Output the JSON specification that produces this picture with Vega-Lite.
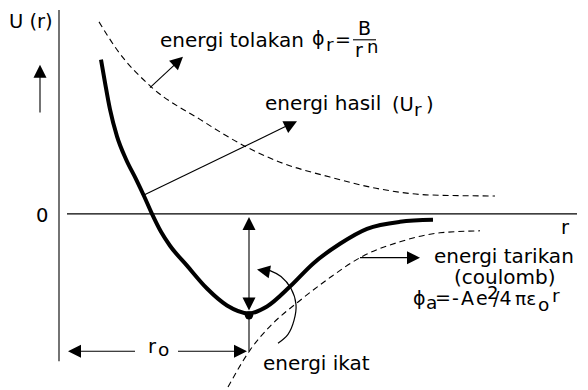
{
  "$schema": "https://vega.github.io/schema/vega-lite/v6.json",
  "width": 588,
  "height": 390,
  "autosize": {"type": "fit", "contains": "padding"},
  "padding": 0,
  "background": "white",
  "config": {"view": {"stroke": null}},
  "datasets": {
    "solid": [
      {"r": 42, "U": 155}, {"r": 46, "U": 132}, {"r": 51, "U": 105}, {"r": 58, "U": 78},
      {"r": 67, "U": 55}, {"r": 77, "U": 35}, {"r": 85, "U": 18}, {"r": 93, "U": 0},
      {"r": 102, "U": -18}, {"r": 111, "U": -32}, {"r": 128, "U": -52}, {"r": 148, "U": -75},
      {"r": 168, "U": -92}, {"r": 190, "U": -100}, {"r": 208, "U": -93}, {"r": 231, "U": -73},
      {"r": 254, "U": -50}, {"r": 281, "U": -30}, {"r": 308, "U": -15}, {"r": 341, "U": -8},
      {"r": 374, "U": -6}
    ],
    "dashed": [
      {"curve": "tolakan", "i": 1, "r": 40, "U": 193}, {"curve": "tolakan", "i": 2, "r": 58, "U": 165},
      {"curve": "tolakan", "i": 3, "r": 93, "U": 127}, {"curve": "tolakan", "i": 4, "r": 141, "U": 95},
      {"curve": "tolakan", "i": 5, "r": 186, "U": 68}, {"curve": "tolakan", "i": 6, "r": 221, "U": 52},
      {"curve": "tolakan", "i": 7, "r": 271, "U": 37}, {"curve": "tolakan", "i": 8, "r": 321, "U": 25},
      {"curve": "tolakan", "i": 9, "r": 371, "U": 19}, {"curve": "tolakan", "i": 10, "r": 436, "U": 18},
      {"curve": "tarikan", "i": 1, "r": 169, "U": -174}, {"curve": "tarikan", "i": 2, "r": 191, "U": -137},
      {"curve": "tarikan", "i": 3, "r": 211, "U": -113}, {"curve": "tarikan", "i": 4, "r": 241, "U": -87},
      {"curve": "tarikan", "i": 5, "r": 271, "U": -64}, {"curve": "tarikan", "i": 6, "r": 301, "U": -44},
      {"curve": "tarikan", "i": 7, "r": 341, "U": -28}, {"curve": "tarikan", "i": 8, "r": 381, "U": -19},
      {"curve": "tarikan", "i": 9, "r": 421, "U": -17}
    ],
    "arc": [
      {"i": 1, "r": 219, "U": -130}, {"i": 2, "r": 229, "U": -121}, {"i": 3, "r": 235, "U": -107},
      {"i": 4, "r": 237, "U": -91}, {"i": 5, "r": 232, "U": -75}, {"i": 6, "r": 222, "U": -63},
      {"i": 7, "r": 211, "U": -57}, {"i": 8, "r": 203, "U": -55}
    ],
    "segments": [
      {"name": "sumbu U", "r": 0, "U": 205, "r2": 0, "U2": -148},
      {"name": "sumbu r", "r": 8, "U": 0, "r2": 518, "U2": 0},
      {"name": "panah U", "r": -19, "U": 102, "r2": -19, "U2": 143},
      {"name": "panah tolakan", "r": 91, "U": 127, "r2": 119, "U2": 153},
      {"name": "panah hasil", "r": 85, "U": 19, "r2": 231, "U2": 90},
      {"name": "panah tarikan", "r": 301, "U": -44, "r2": 353, "U2": -44},
      {"name": "energi ikat", "r": 190, "U": -7, "r2": 190, "U2": -91},
      {"name": "r0 tegak", "r": 190, "U": -100, "r2": 190, "U2": -138},
      {"name": "r0 kiri", "r": 13, "U": -138, "r2": 76, "U2": -138},
      {"name": "r0 kanan", "r": 119, "U": -138, "r2": 183, "U2": -138},
      {"name": "garis pecahan", "r": 294, "U": 175, "r2": 317, "U2": 175}
    ],
    "heads": [
      {"r": -19, "U": 150, "dir": 0}, {"r": 124, "U": 158, "dir": 47},
      {"r": 238, "U": 93, "dir": 64}, {"r": 361, "U": -44, "dir": 90},
      {"r": 190, "U": -3, "dir": 0}, {"r": 190, "U": -97, "dir": 180},
      {"r": 9, "U": -138, "dir": 270}, {"r": 188, "U": -138, "dir": 90},
      {"r": 198, "U": -56, "dir": 280}
    ],
    "dot": [{"r": 190, "U": -102}],
    "texts": [
      {"label": "energi tolakan", "role": "label", "r": 101, "U": 168},
      {"label": "energi hasil", "role": "label", "r": 206, "U": 104},
      {"label": "energi tarikan", "role": "label", "r": 375, "U": -49},
      {"label": "(coulomb)", "role": "label", "r": 395, "U": -70},
      {"label": "energi ikat", "role": "label", "r": 204, "U": -157},
      {"label": "U (r)", "role": "axis", "r": -50, "U": 187},
      {"label": "0", "role": "axis", "r": -23, "U": -8},
      {"label": "r", "role": "axis", "r": 502, "U": -20},
      {"label": "r", "role": "axis", "r": 89, "U": -140},
      {"label": "(U", "role": "axis", "r": 333, "U": 103},
      {"label": ")", "role": "axis", "r": 367, "U": 103},
      {"label": "ϕ", "role": "formula", "r": 253, "U": 170},
      {"label": "=", "role": "formula", "r": 276, "U": 169},
      {"label": "B", "role": "formula", "r": 299, "U": 180},
      {"label": "r", "role": "formula", "r": 296, "U": 158},
      {"label": "ϕ", "role": "formula", "r": 354, "U": -92},
      {"label": "=", "role": "formula", "r": 376, "U": -91},
      {"label": "-", "role": "formula", "r": 393, "U": -92},
      {"label": "A", "role": "formula", "r": 402, "U": -92},
      {"label": "e", "role": "formula", "r": 417, "U": -92},
      {"label": "/4", "role": "formula", "r": 434, "U": -92},
      {"label": "r", "role": "sub", "r": 267, "U": 164},
      {"label": "r", "role": "sub", "r": 355, "U": 98},
      {"label": "a", "role": "sub", "r": 367, "U": -96},
      {"label": "πε", "role": "sub", "r": 456, "U": -92},
      {"label": "o", "role": "sub", "r": 479, "U": -98},
      {"label": "r", "role": "sub", "r": 493, "U": -89},
      {"label": "o", "role": "sub", "r": 99, "U": -143},
      {"label": "n", "role": "sup", "r": 308, "U": 162},
      {"label": "2", "role": "sup", "r": 428, "U": -86}
    ]
  },
  "encoding": {
    "x": {"field": "r", "type": "quantitative", "axis": null, "scale": {"domain": [-59, 529], "nice": false, "zero": false}},
    "y": {"field": "U", "type": "quantitative", "axis": null, "scale": {"domain": [-175, 215], "nice": false, "zero": false}}
  },
  "layer": [
    {
      "data": {"name": "dashed"},
      "mark": {"type": "line", "color": "black", "strokeWidth": 1.1, "strokeDash": [6, 4], "interpolate": "monotone"},
      "encoding": {"detail": {"field": "curve"}, "order": {"field": "i", "type": "quantitative"}}
    },
    {
      "data": {"name": "solid"},
      "mark": {"type": "line", "color": "black", "strokeWidth": 4, "interpolate": "monotone"},
      "encoding": {}
    },
    {
      "data": {"name": "arc"},
      "mark": {"type": "line", "color": "black", "strokeWidth": 1.2, "interpolate": "catmull-rom"},
      "encoding": {"order": {"field": "i", "type": "quantitative"}}
    },
    {
      "data": {"name": "segments"},
      "mark": {"type": "rule", "color": "black", "strokeWidth": 1.1},
      "encoding": {"x2": {"field": "r2"}, "y2": {"field": "U2"}}
    },
    {
      "data": {"name": "heads"},
      "mark": {"type": "point", "shape": "M0,0L-0.5,1L0.5,1Z", "filled": true, "color": "black", "opacity": 1, "size": 676},
      "encoding": {"angle": {"field": "dir", "type": "quantitative", "scale": null}}
    },
    {
      "data": {"name": "dot"},
      "mark": {"type": "point", "shape": "circle", "filled": true, "color": "black", "opacity": 1, "size": 70},
      "encoding": {}
    },
    {
      "data": {"name": "texts"},
      "mark": {"type": "text", "align": "left", "baseline": "alphabetic", "font": "DejaVu Sans", "color": "black"},
      "encoding": {
        "text": {"field": "label"},
        "size": {"field": "role", "type": "nominal", "legend": null, "scale": {"domain": ["label", "axis", "formula", "sub", "sup"], "range": [20, 18, 16, 15, 11]}}
      }
    }
  ]
}
